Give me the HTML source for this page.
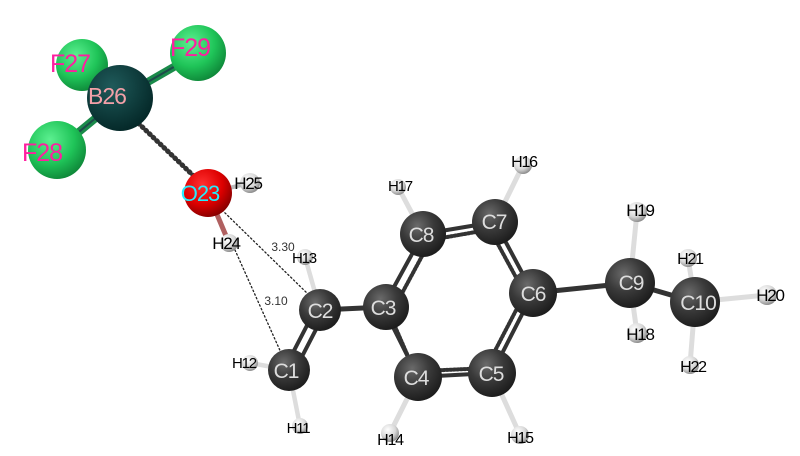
<!DOCTYPE html>
<html><head><meta charset="utf-8"><style>html,body{margin:0;padding:0;background:#fff}svg{display:block}</style></head><body>
<svg width="800" height="456" viewBox="0 0 800 456" xmlns="http://www.w3.org/2000/svg" font-family="Liberation Sans, sans-serif">
<defs>
<radialGradient id="gc" cx="0.38" cy="0.32" r="0.7"><stop offset="0" stop-color="#6a6a6a"/><stop offset="0.5" stop-color="#3a3a3a"/><stop offset="1" stop-color="#1c1c1c"/></radialGradient>
<radialGradient id="gh" cx="0.38" cy="0.32" r="0.7"><stop offset="0" stop-color="#ffffff"/><stop offset="0.6" stop-color="#d8d8d8"/><stop offset="1" stop-color="#8a8a8a"/></radialGradient>
<radialGradient id="gf" cx="0.38" cy="0.32" r="0.7"><stop offset="0" stop-color="#5cf090"/><stop offset="0.6" stop-color="#1fc458"/><stop offset="1" stop-color="#0f8a3a"/></radialGradient>
<radialGradient id="gb" cx="0.38" cy="0.32" r="0.7"><stop offset="0" stop-color="#1f5a5a"/><stop offset="1" stop-color="#042828"/></radialGradient>
<radialGradient id="go" cx="0.38" cy="0.32" r="0.7"><stop offset="0" stop-color="#ff3030"/><stop offset="0.6" stop-color="#dd0000"/><stop offset="1" stop-color="#880000"/></radialGradient>
</defs>
<g stroke-linecap="round">
<line x1="120" y1="98" x2="198" y2="53" stroke="#1a8a4a" stroke-width="8"/>
<line x1="120" y1="98" x2="198" y2="53" stroke="#1e4a4a" stroke-width="2"/>
<line x1="120" y1="98" x2="57" y2="150" stroke="#1a8a4a" stroke-width="8"/>
<line x1="120" y1="98" x2="57" y2="150" stroke="#1e4a4a" stroke-width="2"/>
<line x1="120" y1="98" x2="82" y2="65" stroke="#1a8a4a" stroke-width="6"/>
<line x1="135" y1="120" x2="200" y2="182" stroke="#333" stroke-width="5" stroke-dasharray="1 4"/>
<line x1="208" y1="193" x2="250" y2="183" stroke="#bbb" stroke-width="4"/>
<line x1="208" y1="193" x2="229" y2="243" stroke="#b06060" stroke-width="5"/>
<line x1="222" y1="210" x2="310" y2="296" stroke="#222" stroke-width="1.3" stroke-dasharray="1.5 2.5"/>
<line x1="235" y1="250" x2="282" y2="355" stroke="#222" stroke-width="1.3" stroke-dasharray="1.5 2.5"/>
<line x1="320" y1="310" x2="386" y2="307" stroke="#333" stroke-width="5"/>
<line x1="316" y1="308" x2="285" y2="368" stroke="#333" stroke-width="4"/>
<line x1="325" y1="312" x2="294" y2="372" stroke="#333" stroke-width="4"/>
<g stroke="#ddd" stroke-width="4.5">
<line x1="320" y1="310" x2="305" y2="257"/>
<line x1="289" y1="370" x2="250" y2="363"/>
<line x1="289" y1="370" x2="300" y2="426"/>
</g>
<g stroke="#333" stroke-width="4">
<line x1="383" y1="307" x2="423" y2="234"/><line x1="423" y1="234" x2="495" y2="222"/>
<line x1="495" y1="222" x2="533" y2="293"/><line x1="533" y1="293" x2="492" y2="373"/>
<line x1="492" y1="373" x2="418" y2="377"/><line x1="418" y1="377" x2="383" y2="307"/>
</g>
<g stroke="#333" stroke-width="4" stroke-dasharray="1.5 2">
<line x1="393" y1="310" x2="428" y2="245"/><line x1="430" y1="240" x2="493" y2="229"/>
<line x1="488" y1="226" x2="524" y2="292"/><line x1="524" y1="295" x2="486" y2="368"/>
<line x1="490" y1="368" x2="422" y2="371"/><line x1="414" y1="370" x2="390" y2="315"/>
</g>
<g stroke="#ddd" stroke-width="5">
<line x1="423" y1="234" x2="398" y2="187"/><line x1="495" y1="222" x2="523" y2="165"/>
<line x1="418" y1="377" x2="390" y2="433"/><line x1="492" y1="373" x2="520" y2="435"/>
</g>
<line x1="533" y1="293" x2="630" y2="283" stroke="#333" stroke-width="5"/>
<line x1="630" y1="283" x2="695" y2="302" stroke="#333" stroke-width="5"/>
<g stroke="#ddd" stroke-width="5">
<line x1="630" y1="283" x2="637" y2="212"/><line x1="630" y1="283" x2="637" y2="333"/>
<line x1="695" y1="302" x2="688" y2="258"/><line x1="695" y1="302" x2="767" y2="295"/>
<line x1="695" y1="302" x2="690" y2="365"/>
</g>
</g>
<circle cx="82" cy="65" r="26" fill="url(#gf)"/>
<circle cx="198" cy="53" r="28" fill="url(#gf)"/>
<circle cx="57" cy="150" r="29" fill="url(#gf)"/>
<circle cx="120" cy="98" r="33" fill="url(#gb)"/>
<circle cx="250" cy="183" r="10" fill="url(#gh)"/>
<circle cx="208" cy="193" r="24" fill="url(#go)"/>
<circle cx="229" cy="243" r="9" fill="url(#gh)"/>
<g fill="url(#gh)">
<circle cx="305" cy="257" r="8"/><circle cx="250" cy="363" r="8"/><circle cx="300" cy="426" r="8"/>
<circle cx="398" cy="187" r="8"/><circle cx="523" cy="165" r="9"/><circle cx="390" cy="433" r="9"/><circle cx="520" cy="435" r="9"/>
<circle cx="637" cy="212" r="10"/><circle cx="637" cy="333" r="10"/><circle cx="688" cy="258" r="9"/><circle cx="767" cy="295" r="10"/><circle cx="690" cy="365" r="9"/>
</g>
<g fill="url(#gc)">
<circle cx="320" cy="310" r="21"/><circle cx="289" cy="370" r="21"/><circle cx="386" cy="307" r="23"/>
<circle cx="423" cy="234" r="23"/><circle cx="495" cy="222" r="23"/><circle cx="533" cy="293" r="24"/>
<circle cx="492" cy="373" r="24"/><circle cx="418" cy="377" r="24"/>
<circle cx="630" cy="283" r="25"/><circle cx="695" cy="302" r="25"/>
</g>
<g font-size="25" text-anchor="middle" letter-spacing="-1">
<text x="70" y="72" fill="#ff1fa0">F27</text>
<text x="190" y="56" fill="#ff1fa0">F29</text>
<text x="42" y="161" fill="#ff1fa0">F28</text>
<text x="107" y="104" fill="#f4a0a8" font-size="23">B26</text>
<text x="200" y="201" fill="#22eeff" font-size="22">O23</text>
</g>
<g font-size="17" text-anchor="middle" fill="#000" letter-spacing="-1.2">
<text x="248" y="189">H25</text>
<text x="226" y="249">H24</text>
<text x="304" y="263" font-size="15">H13</text>
<text x="244" y="368" font-size="15">H12</text>
<text x="298" y="433" font-size="15">H11</text>
<text x="400" y="191" font-size="15">H17</text>
<text x="524" y="167" font-size="16">H16</text>
<text x="390" y="445" font-size="16">H14</text>
<text x="520" y="443" font-size="16">H15</text>
<text x="640" y="216">H19</text>
<text x="640" y="340">H18</text>
<text x="690" y="264" font-size="16">H21</text>
<text x="770" y="301">H20</text>
<text x="693" y="372" font-size="16">H22</text>
</g>
<g font-size="12" fill="#333" text-anchor="middle">
<text x="283" y="251">3.30</text>
<text x="276" y="305">3.10</text>
</g>
<g font-size="21" text-anchor="middle" fill="#ddd" letter-spacing="-1">
<text x="320" y="318">C2</text><text x="286" y="378">C1</text><text x="383" y="315">C3</text>
<text x="421" y="242">C8</text><text x="494" y="229">C7</text><text x="533" y="301">C6</text>
<text x="491" y="381">C5</text><text x="416" y="385">C4</text>
<text x="631" y="290">C9</text><text x="698" y="310">C10</text>
</g>
</svg>
</body></html>
